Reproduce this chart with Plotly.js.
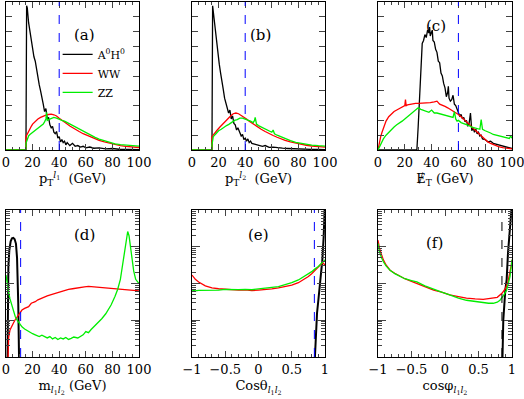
<!DOCTYPE html>
<html>
<head>
<meta charset="utf-8">
<script src="https://cdn.plot.ly/plotly-3.0.1.min.js"></script>
<style>
  body { margin: 0; padding: 0; background: #fff; }
  #chart { width: 524px; height: 399px; }
</style>
</head>
<body>
<div id="chart"></div>
<script>
// series names
var names = ["A<sup>0</sup>H<sup>0</sup>", "WW", "ZZ"];
var colors = ["#000000", "#ff0000", "#00ee00"];

// cut positions (dashed verticals), panels a-f
var cuts = [40, 40, 60, 11, 0.84, 0.85];
var panelLabels = ["(a)", "(b)", "(c)", "(d)", "(e)", "(f)"];

// (a) pT of leading lepton
var aBlackX = [0, 14.5, 15, 15.5, 16, 17, 18, 19, 20, 21, 22, 23, 24, 25, 26, 27, 28, 29, 30, 31, 32, 33, 34, 35, 36, 37, 38, 39, 40, 41, 42, 43, 44, 45, 46, 48, 50, 52, 54, 56, 58, 60, 63, 66, 70, 75, 80, 85, 90, 95, 100];
var aBlackY = [0, 0, 0, 9.75, 9.6, 8.6, 8.0, 7.3, 6.8, 6.3, 6.0, 5.4, 4.9, 4.4, 4.0, 3.4, 3.1, 2.6, 2.8, 2.1, 2.2, 1.7, 1.5, 1.6, 1.2, 1.1, 1.25, 0.8, 0.9, 0.55, 0.7, 0.5, 0.6, 0.35, 0.5, 0.3, 0.45, 0.25, 0.3, 0.2, 0.25, 0.15, 0.2, 0.12, 0.15, 0.08, 0.1, 0.05, 0.06, 0.04, 0.03];
var aRedX = [0, 15, 15, 16, 17, 18, 19, 20, 22, 24, 26, 28, 30, 32, 34, 36, 38, 40, 42, 44, 46, 48, 50, 52, 55, 58, 61, 64, 67, 70, 74, 78, 82, 86, 90, 95, 100];
var aRedY = [0, 0, 0.9, 1.1, 1.3, 1.45, 1.6, 1.75, 1.95, 2.1, 2.2, 2.3, 2.35, 2.4, 2.42, 2.38, 2.3, 2.15, 2.0, 1.9, 1.75, 1.62, 1.5, 1.4, 1.25, 1.1, 0.98, 0.86, 0.75, 0.65, 0.55, 0.45, 0.38, 0.3, 0.25, 0.2, 0.17];
var aGreenX = [0, 15, 15, 16, 17, 18, 20, 22, 24, 26, 28, 29, 30, 30.5, 31, 32, 34, 36, 38, 40, 42, 44, 46, 48, 50, 52, 55, 58, 61, 64, 67, 70, 74, 78, 82, 86, 90, 95, 100];
var aGreenY = [0, 0, 0.45, 0.8, 0.95, 1.05, 1.2, 1.35, 1.5, 1.6, 1.75, 1.9, 2.1, 2.55, 2.0, 2.05, 2.15, 2.2, 2.15, 2.05, 2.0, 1.95, 1.85, 1.75, 1.65, 1.55, 1.42, 1.28, 1.12, 0.98, 0.85, 0.74, 0.62, 0.5, 0.42, 0.36, 0.32, 0.28, 0.26];

// (b) pT of second lepton
var bBlackX = [0, 14.5, 15, 15.5, 16.5, 17.5, 18.5, 19.5, 20.5, 21.5, 22.5, 23.5, 24.5, 25.5, 26.5, 27.5, 28.5, 29.5, 30.5, 31.5, 32.5, 33.5, 34.5, 36, 37, 38, 39, 40, 41, 42, 43, 44, 45, 47, 49, 51, 53, 55, 58, 61, 64, 68, 72, 76, 80, 85, 90, 95, 100];
var bBlackY = [0, 0, 0, 9.75, 8.9, 8.2, 7.2, 6.4, 5.8, 5.2, 4.5, 4.1, 3.5, 3.1, 2.8, 2.5, 2.7, 2.1, 2.3, 1.8, 1.7, 1.35, 1.5, 1.1, 0.95, 1.05, 0.7, 0.8, 0.6, 0.75, 0.5, 0.6, 0.45, 0.4, 0.35, 0.3, 0.25, 0.3, 0.18, 0.2, 0.15, 0.12, 0.1, 0.08, 0.07, 0.05, 0.04, 0.04, 0.03];
var bRedX = [0, 15, 15, 17, 19, 21, 23, 25, 27, 29, 31, 33, 35, 37, 39, 41, 43, 46, 49, 52, 55, 58, 61, 64, 67, 70, 74, 78, 82, 86, 90, 95, 100];
var bRedY = [0, 0, 0.9, 1.15, 1.35, 1.55, 1.75, 1.95, 2.15, 2.3, 2.45, 2.5, 2.45, 2.35, 2.25, 2.1, 1.95, 1.75, 1.55, 1.4, 1.25, 1.1, 0.98, 0.86, 0.75, 0.65, 0.55, 0.46, 0.38, 0.32, 0.27, 0.23, 0.2];
var bGreenX = [0, 15, 15, 16, 18, 20, 22, 24, 26, 28, 30, 32, 34, 36, 38, 40, 42, 44, 46, 47, 47.5, 48.5, 50, 52, 55, 58, 60, 61, 62, 64, 67, 70, 74, 78, 82, 86, 90, 95, 100];
var bGreenY = [0, 0, 0.35, 0.9, 1.1, 1.3, 1.4, 1.55, 1.65, 1.75, 1.9, 2.0, 2.05, 2.15, 2.15, 2.1, 2.0, 1.95, 1.85, 2.0, 2.2, 1.75, 1.65, 1.55, 1.42, 1.28, 1.2, 1.35, 1.1, 1.0, 0.88, 0.76, 0.64, 0.52, 0.44, 0.38, 0.33, 0.29, 0.26];

// (c) missing ET
var cBlackX = [0, 29, 30, 31, 32, 33, 34, 35, 36, 37, 38, 38.5, 39, 40, 40.5, 41, 42, 43, 44, 45, 46, 47, 48, 49, 50, 51, 52, 52.5, 53, 54, 55, 56, 57, 58, 59, 60, 61, 62, 63, 64, 65, 66, 67, 68, 69, 70, 71, 72, 73, 74, 75, 76, 77, 78, 80, 82, 84, 86, 88, 90, 92, 94, 96, 98, 100];
var cBlackY = [0, 0, 1.6, 3.5, 5.5, 7.2, 7.4, 7.8, 7.6, 8.1, 7.9, 8.3, 7.7, 7.9, 8.1, 7.4, 7.3, 6.8, 6.6, 6.0, 5.9, 5.2, 5.0, 4.5, 4.2, 3.6, 3.9, 4.3, 3.5, 3.3, 3.4, 3.7, 3.1, 3.0, 2.8, 2.5, 2.3, 2.4, 2.1, 2.2, 1.9, 2.0, 1.6, 1.8, 2.5, 1.3, 1.5, 1.2, 1.4, 1.1, 1.2, 0.95, 1.0, 0.75, 0.7, 0.55, 0.6, 0.45, 0.4, 0.35, 0.3, 0.28, 0.2, 0.15, 0.1];
var cRedX = [0, 1, 2, 3, 4, 5, 6, 8, 10, 12, 14, 16, 18, 20, 20.5, 21, 22, 24, 26, 28, 30, 33, 36, 39, 42, 44, 46, 48, 50, 52, 54, 56, 58, 60, 62, 64, 66, 68, 70, 72, 74, 76, 78, 80, 82, 84, 86, 88, 90, 93, 96, 100];
var cRedY = [0, 0.5, 0.9, 1.2, 1.5, 1.75, 1.95, 2.25, 2.45, 2.6, 2.7, 2.8, 2.9, 3.0, 3.4, 3.0, 3.05, 3.1, 3.1, 3.15, 3.15, 3.15, 3.15, 3.2, 3.25, 3.3, 3.1, 3.05, 2.95, 2.85, 2.75, 2.65, 2.55, 2.4, 2.25, 2.1, 1.95, 1.75, 1.55, 1.38, 1.2, 1.02, 0.85, 0.7, 0.55, 0.45, 0.37, 0.3, 0.23, 0.16, 0.12, 0.08];
var cGreenX = [0, 2, 4, 6, 8, 10, 12, 14, 16, 18, 20, 22, 24, 26, 28, 30, 32, 34, 36, 38, 40, 42, 44, 46, 48, 50, 52, 54, 56, 57, 58, 59, 60, 62, 64, 66, 68, 70, 72, 74, 76, 77, 78, 80, 82, 84, 86, 88, 90, 92, 94, 96, 98, 99, 100];
var cGreenY = [0, 0.4, 0.75, 1.0, 1.2, 1.4, 1.55, 1.7, 1.8, 1.95, 2.1, 2.25, 2.4, 2.55, 2.7, 2.85, 2.75, 2.7, 2.65, 2.55, 2.7, 2.5, 2.5, 2.45, 2.4, 2.35, 2.3, 2.25, 2.2, 2.6, 2.1, 1.95, 2.0, 1.85, 1.8, 1.7, 1.65, 1.55, 1.5, 1.45, 1.4, 2.05, 1.4, 1.3, 1.25, 1.15, 1.05, 1.0, 0.95, 0.88, 0.85, 0.8, 0.78, 0.95, 0.8];

// (d) dilepton mass (log scale)
var dBlackX = [1.0, 1.3, 1.8, 2.5, 3.5, 4.5, 5.5, 6.5, 7.5, 8.3, 8.8, 9.2, 9.6, 10];
var dBlackY = [3e-5, 3e-3, 3e-2, 8e-2, 0.14, 0.17, 0.175, 0.16, 0.12, 5e-2, 1.5e-2, 3e-3, 3e-4, 3e-5];
var dRedX = [1, 1.5, 2, 3, 4, 5.5, 7, 9.5, 12, 14, 17, 19, 22, 24, 26, 29, 31, 34, 37, 40, 43, 47, 50, 53, 56, 59, 62, 65, 68, 72, 75, 78, 81, 84, 87, 90, 93, 96, 98, 100];
var dRedY = [2e-5, 2e-4, 3.5e-4, 5.4e-4, 6.6e-4, 8.3e-4, 1.05e-3, 1.38e-3, 1.9e-3, 2.1e-3, 2.35e-3, 2.9e-3, 3.2e-3, 3.6e-3, 3.9e-3, 4.4e-3, 4.6e-3, 5.0e-3, 5.4e-3, 6.0e-3, 6.3e-3, 6.9e-3, 7.2e-3, 7.6e-3, 7.9e-3, 8.1e-3, 8.3e-3, 8.1e-3, 8.0e-3, 7.9e-3, 7.6e-3, 7.4e-3, 7.2e-3, 6.9e-3, 7.0e-3, 6.7e-3, 6.6e-3, 6.5e-3, 6.4e-3, 6.3e-3];
var dGreenX = [0, 1, 2, 3, 4, 5.5, 7, 8, 10, 12, 14, 17, 20, 22, 25, 27, 29, 31, 33, 35, 37, 39, 41, 43, 45, 47, 49, 51, 54, 56, 58, 60, 62, 64, 66, 69, 72, 75, 77, 79, 82, 84, 86, 87.5, 89, 90, 91, 91.5, 92.5, 93.5, 95, 96, 97.5, 99, 100];
var dGreenY = [1.7e-2, 9e-3, 5.6e-3, 3.8e-3, 2.8e-3, 1.7e-3, 1.25e-3, 1.05e-3, 8.3e-4, 6.6e-4, 5.8e-4, 4.9e-4, 4.3e-4, 4.0e-4, 3.6e-4, 3.9e-4, 3.5e-4, 3.3e-4, 3.6e-4, 3.1e-4, 3.4e-4, 3.0e-4, 3.3e-4, 3.1e-4, 3.4e-4, 3.0e-4, 3.2e-4, 3.5e-4, 3.3e-4, 3.6e-4, 4.0e-4, 4.9e-4, 4.6e-4, 5.6e-4, 6.6e-4, 8.3e-4, 1.1e-3, 1.5e-3, 1.9e-3, 2.6e-3, 4.5e-3, 7e-3, 1.3e-2, 2.9e-2, 7e-2, 0.13, 0.22, 0.26, 0.2, 0.11, 3.5e-2, 2.2e-2, 1.3e-2, 1.1e-2, 1.0e-2];

// (e) cos theta_ll (log scale)
var eBlackX = [0.83, 0.85, 0.87, 0.88, 0.9, 0.93, 0.96, 0.98, 0.995, 1];
var eBlackY = [2e-5, 1.9e-4, 8e-4, 1.55e-3, 3.5e-3, 1.26e-2, 4.4e-2, 0.186, 1.0, 2.0];
var eRedX = [-1, -0.95, -0.9, -0.85, -0.8, -0.75, -0.7, -0.6, -0.5, -0.4, -0.3, -0.2, -0.1, 0, 0.1, 0.2, 0.3, 0.4, 0.5, 0.6, 0.7, 0.75, 0.8, 0.85, 0.9, 0.95, 0.97, 1];
var eRedY = [1.7e-2, 1.3e-2, 1.1e-2, 9.6e-3, 8.6e-3, 8.1e-3, 7.6e-3, 7.2e-3, 6.9e-3, 6.8e-3, 6.6e-3, 6.7e-3, 6.4e-3, 6.6e-3, 6.8e-3, 7.1e-3, 7.6e-3, 8.1e-3, 9e-3, 1.05e-2, 1.35e-2, 1.55e-2, 1.85e-2, 2.3e-2, 2.8e-2, 3.5e-2, 3.6e-2, 3.2e-2];
var eGreenX = [-1, -0.95, -0.9, -0.8, -0.7, -0.6, -0.5, -0.4, -0.3, -0.2, -0.1, 0, 0.1, 0.2, 0.3, 0.4, 0.5, 0.6, 0.7, 0.8, 0.85, 0.9, 0.95, 0.98, 1];
var eGreenY = [6.6e-3, 6.3e-3, 6.5e-3, 6.5e-3, 6.8e-3, 6.6e-3, 6.9e-3, 6.7e-3, 6.8e-3, 6.9e-3, 6.8e-3, 7.1e-3, 7.3e-3, 7.8e-3, 8.2e-3, 9.2e-3, 1.05e-2, 1.25e-2, 1.6e-2, 2.1e-2, 2.5e-2, 2.9e-2, 3.6e-2, 4.2e-2, 4.4e-2];

// (f) cos phi_ll (log scale)
var fBlackX = [0.85, 0.87, 0.9, 0.92, 0.94, 0.97, 0.99, 1];
var fBlackY = [2e-5, 1e-3, 6.6e-3, 1.26e-2, 6.6e-2, 0.234, 0.83, 1.6];
var fRedX = [-1, -0.98, -0.95, -0.92, -0.88, -0.82, -0.75, -0.67, -0.6, -0.5, -0.42, -0.3, -0.17, -0.05, 0.07, 0.2, 0.32, 0.45, 0.57, 0.65, 0.72, 0.78, 0.85, 0.9, 0.94, 0.97, 0.99, 1];
var fRedY = [0.151, 9.5e-2, 6.3e-2, 4.4e-2, 3.2e-2, 2.3e-2, 1.9e-2, 1.55e-2, 1.35e-2, 1.15e-2, 1e-2, 8.5e-3, 6.6e-3, 5.8e-3, 4.9e-3, 4.4e-3, 4e-3, 3.8e-3, 3.7e-3, 3.9e-3, 4e-3, 4.2e-3, 5.4e-3, 7.2e-3, 1.1e-2, 1.9e-2, 3.2e-2, 4.4e-2];
var fGreenX = [-1, -0.98, -0.95, -0.92, -0.88, -0.82, -0.75, -0.67, -0.6, -0.5, -0.42, -0.3, -0.17, -0.05, 0.07, 0.2, 0.32, 0.45, 0.57, 0.65, 0.72, 0.78, 0.82, 0.87, 0.92, 0.95, 0.97, 0.99, 1];
var fGreenY = [0.123, 7.5e-2, 5.2e-2, 3.9e-2, 3e-2, 2.3e-2, 1.85e-2, 1.55e-2, 1.35e-2, 1.2e-2, 1.1e-2, 8.6e-3, 6.9e-3, 5.8e-3, 4.9e-3, 4e-3, 3.5e-3, 3.2e-3, 3e-3, 2.9e-3, 2.9e-3, 3.1e-3, 3.5e-3, 4.6e-3, 6.6e-3, 1e-2, 1.55e-2, 3e-2, 4.4e-2];

var axisTitles = [
  "p<sub>T</sub><sup><i>l</i><sub>1</sub></sup>  (GeV)",
  "p<sub>T</sub><sup><i>l</i><sub>2</sub></sup>  (GeV)",
  "\u0246<sub>T</sub> (GeV)",
  "m<sub><i>l</i><sub>1</sub><i>l</i><sub>2</sub></sub> (GeV)",
  "Cos\u03b8<sub><i>l</i><sub>1</sub><i>l</i><sub>2</sub></sub>",
  "cos\u03c6<sub><i>l</i><sub>1</sub><i>l</i><sub>2</sub></sub>"
];

var panels = [
  [aBlackX, aBlackY, aRedX, aRedY, aGreenX, aGreenY],
  [bBlackX, bBlackY, bRedX, bRedY, bGreenX, bGreenY],
  [cBlackX, cBlackY, cRedX, cRedY, cGreenX, cGreenY],
  [dBlackX, dBlackY, dRedX, dRedY, dGreenX, dGreenY],
  [eBlackX, eBlackY, eRedX, eRedY, eGreenX, eGreenY],
  [fBlackX, fBlackY, fRedX, fRedY, fGreenX, fGreenY]
];

var W = 524, H = 399;
var xDom = [[6, 139], [192, 325], [378, 512]];
var yDom = [[2, 150], [210, 357]];
var serif = "DejaVu Serif";

var traces = [];
var layout = {
  width: W, height: H,
  margin: {l: 0, r: 0, t: 0, b: 0},
  paper_bgcolor: "#fff", plot_bgcolor: "#fff",
  font: {family: serif, size: 13, color: "#000"},
  showlegend: true,
  legend: {x: 0.11, y: 0.9, xanchor: "left", yanchor: "top",
           bgcolor: "rgba(0,0,0,0)", font: {family: serif, size: 11},
           tracegroupgap: 0, itemwidth: 30},
  shapes: [], annotations: []
};

for (var p = 0; p < 6; p++) {
  var s = p === 0 ? "" : String(p + 1);
  var row = p < 3 ? 0 : 1;
  var col = p % 3;
  var isLog = row === 1;
  for (var k = 0; k < 3; k++) {
    traces.push({
      x: panels[p][2 * k], y: panels[p][2 * k + 1],
      xaxis: "x" + s, yaxis: "y" + s,
      type: "scatter", mode: "lines",
      name: names[k],
      showlegend: p === 0,
      line: {color: colors[k], width: (k === 0 && isLog) ? 2 : 1.3}
    });
  }
  var xr = (p === 4 || p === 5) ? [-1, 1] : [0, 100];
  layout["xaxis" + s] = {
    domain: [xDom[col][0] / W, xDom[col][1] / W],
    anchor: "y" + s,
    range: xr,
    dtick: xr[0] === -1 ? 0.5 : 20,
    ticks: "inside", ticklen: 6, tickwidth: 1,
    minor: {dtick: xr[0] === -1 ? 0.1 : 5, ticks: "inside", ticklen: 3, tickwidth: 1},
    showline: true, mirror: "ticks", linecolor: "#000", linewidth: 1.2,
    showgrid: false, zeroline: false,
    ticklabeloverflow: "allow",
    tickfont: {family: serif, size: 13},
    title: {text: axisTitles[p], font: {family: serif, size: 13}, standoff: 5}
  };
  var yax = {
    domain: [1 - yDom[row][1] / H, 1 - yDom[row][0] / H],
    anchor: "x" + s,
    showticklabels: false,
    ticks: "inside", tickwidth: 1,
    showline: true, mirror: "ticks", linecolor: "#000", linewidth: 1.2,
    showgrid: false, zeroline: false
  };
  if (isLog) {
    yax.type = "log";
    yax.range = [-4, 0];
    yax.dtick = 1;
    yax.ticklen = 8;
    yax.minor = {dtick: "D1", ticks: "inside", ticklen: 4, tickwidth: 1};
  } else {
    yax.range = [0, 10];
    yax.dtick = 1;
    yax.ticklen = 6;
  }
  layout["yaxis" + s] = yax;

  layout.shapes.push({
    type: "line", xref: "x" + s, yref: "y" + s + " domain",
    x0: cuts[p], x1: cuts[p], y0: 0, y1: 1,
    line: {color: p === 5 ? "#000" : "#0000ff", width: 1, dash: "dash"}
  });
}

// panel labels
var labelPos = [[72, 24], [260, 24], [448, 15], [72, 235], [258, 235], [445, 243]];
for (var i = 0; i < 6; i++) {
  layout.annotations.push({
    text: panelLabels[i], xref: "paper", yref: "paper",
    x: labelPos[i][0] / W, y: 1 - labelPos[i][1] / H,
    showarrow: false, font: {family: serif, size: 15}
  });
}

Plotly.newPlot("chart", traces, layout, {displayModeBar: false, staticPlot: true});
</script>
</body>
</html>
